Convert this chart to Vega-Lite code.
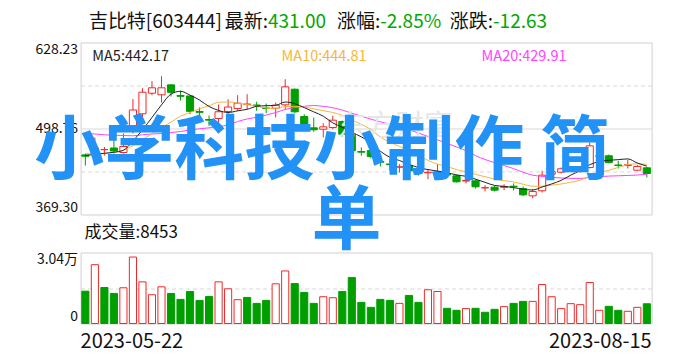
{
  "$schema": "https://vega.github.io/schema/vega-lite/v6.json",
  "background": "white",
  "padding": {"left": 33.6, "top": 11.5, "right": 5, "bottom": 5},
  "bounds": "flush",
  "config": {
    "view": {"stroke": "#d0d0d0", "strokeWidth": 1},
    "font": "Noto Sans CJK SC",
    "axis": {"labelFont": "Noto Sans CJK SC", "labelColor": "#111111", "ticks": false, "domain": false, "title": null}
  },
  "spacing": 38,
  "datasets": {
    "k": [
      {"d":"2023-05-22","o":459,"h":461,"l":443,"c":457,"v":13840,"ma5":458,"ma10":461,"ma20":491.7},
      {"d":"2023-05-23","o":461.9,"h":485.2,"l":455.9,"c":469.4,"v":25180,"ma5":460,"ma10":460.5,"ma20":490.5},
      {"d":"2023-05-24","o":467,"h":471,"l":458,"c":467,"v":15410,"ma5":461.5,"ma10":461,"ma20":489.3},
      {"d":"2023-05-25","o":469.4,"h":482.2,"l":461.1,"c":464.9,"v":12870,"ma5":463,"ma10":462.5,"ma20":488.7},
      {"d":"2023-05-26","o":462.6,"h":491.2,"l":461.1,"c":471.7,"v":15290,"ma5":466.0,"ma10":466,"ma20":488.2},
      {"d":"2023-05-29","o":496.8,"h":543.2,"l":491.2,"c":526.6,"v":28450,"ma5":479.9,"ma10":473,"ma20":487.8},
      {"d":"2023-05-30","o":520.9,"h":559.4,"l":514.3,"c":553.4,"v":17830,"ma5":496.7,"ma10":482,"ma20":489.3},
      {"d":"2023-05-31","o":551.9,"h":570.0,"l":548.9,"c":560.0,"v":12310,"ma5":515.3,"ma10":491,"ma20":490.5},
      {"d":"2023-06-01","o":549.5,"h":577.5,"l":537.9,"c":560.0,"v":15710,"ma5":534.3,"ma10":500,"ma20":491.2},
      {"d":"2023-06-02","o":564.5,"h":565,"l":546.9,"c":553.2,"v":12870,"ma5":550.6,"ma10":508.3,"ma20":492.7},
      {"d":"2023-06-05","o":548.4,"h":555.5,"l":540.9,"c":547.2,"v":10320,"ma5":554.8,"ma10":517.3,"ma20":494.2},
      {"d":"2023-06-06","o":547.7,"h":548.4,"l":520.3,"c":524.6,"v":13710,"ma5":549.0,"ma10":522.9,"ma20":496.6},
      {"d":"2023-06-07","o":524.4,"h":530.4,"l":516.8,"c":523.1,"v":9890,"ma5":541.6,"ma10":528.5,"ma20":498.3},
      {"d":"2023-06-08","o":512.3,"h":518.3,"l":502.5,"c":511.3,"v":11590,"ma5":531.9,"ma10":533.1,"ma20":499.8},
      {"d":"2023-06-09","o":513.8,"h":534.9,"l":501.8,"c":524.0,"v":17830,"ma5":526.0,"ma10":538.3,"ma20":501.8},
      {"d":"2023-06-12","o":524.4,"h":542.9,"l":518.8,"c":531.1,"v":14860,"ma5":522.8,"ma10":538.8,"ma20":504.0},
      {"d":"2023-06-13","o":528.9,"h":548.9,"l":525.4,"c":536.9,"v":10190,"ma5":525.3,"ma10":537.1,"ma20":509.3},
      {"d":"2023-06-14","o":535.3,"h":550.4,"l":527.8,"c":535.3,"v":11170,"ma5":527.7,"ma10":534.7,"ma20":513.1},
      {"d":"2023-06-15","o":534.1,"h":539,"l":525.4,"c":533.4,"v":8620,"ma5":532.1,"ma10":532.0,"ma20":515.8},
      {"d":"2023-06-16","o":529.6,"h":536.4,"l":521.8,"c":528.9,"v":9890,"ma5":533.1,"ma10":529.6,"ma20":519.0},
      {"d":"2023-06-19","o":529.3,"h":537.9,"l":515.3,"c":533.8,"v":16980,"ma5":533.7,"ma10":528.2,"ma20":522.8},
      {"d":"2023-06-20","o":534.4,"h":573.0,"l":527.8,"c":561.5,"v":22500,"ma5":538.6,"ma10":531.9,"ma20":527.4},
      {"d":"2023-06-21","o":557.9,"h":559,"l":521.8,"c":523.9,"v":17110,"ma5":536.3,"ma10":532.0,"ma20":530.2},
      {"d":"2023-06-26","o":516.8,"h":520.3,"l":496.8,"c":502.8,"v":13290,"ma5":530.2,"ma10":531.2,"ma20":532.1},
      {"d":"2023-06-27","o":499.8,"h":515.3,"l":493.8,"c":496.8,"v":8620,"ma5":523.8,"ma10":528.4,"ma20":533.4},
      {"d":"2023-06-28","o":497.7,"h":506.8,"l":485.2,"c":501.3,"v":11460,"ma5":517.3,"ma10":525.5,"ma20":532.1},
      {"d":"2023-06-29","o":500.3,"h":517.9,"l":498.0,"c":511.3,"v":11040,"ma5":507.2,"ma10":522.9,"ma20":530.0},
      {"d":"2023-06-30","o":509.3,"h":510.8,"l":486.7,"c":490.2,"v":13710,"ma5":500.5,"ma10":518.4,"ma20":526.5},
      {"d":"2023-07-03","o":490.2,"h":492.7,"l":460.1,"c":465.2,"v":19660,"ma5":493.0,"ma10":511.6,"ma20":521.8},
      {"d":"2023-07-04","o":464.1,"h":470.2,"l":457.7,"c":463.1,"v":9040,"ma5":486.2,"ma10":505.0,"ma20":517.3},
      {"d":"2023-07-05","o":465.6,"h":468.6,"l":453.6,"c":456.6,"v":6920,"ma5":477.3,"ma10":497.3,"ma20":512.8},
      {"d":"2023-07-06","o":449.1,"h":456.6,"l":441.6,"c":448.0,"v":10320,"ma5":464.6,"ma10":485.9,"ma20":508.9},
      {"d":"2023-07-07","o":445.3,"h":453.6,"l":435.5,"c":444.3,"v":9890,"ma5":455.4,"ma10":478.0,"ma20":505.0},
      {"d":"2023-07-10","o":440.5,"h":445.0,"l":432.5,"c":441.1,"v":8620,"ma5":450.6,"ma10":471.8,"ma20":501.5},
      {"d":"2023-07-11","o":442.6,"h":444.6,"l":432.5,"c":435.1,"v":12020,"ma5":445.0,"ma10":465.6,"ma20":497.0},
      {"d":"2023-07-12","o":434.8,"h":437.0,"l":428.0,"c":431.0,"v":9040,"ma5":439.9,"ma10":458.6,"ma20":492.0},
      {"d":"2023-07-13","o":432.1,"h":437.5,"l":422.4,"c":432.8,"v":14440,"ma5":436.9,"ma10":450.7,"ma20":486.8},
      {"d":"2023-07-14","o":432.5,"h":445.0,"l":426.5,"c":433.6,"v":13710,"ma5":434.7,"ma10":445.1,"ma20":481.7},
      {"d":"2023-07-17","o":431.0,"h":432.5,"l":426.5,"c":428.8,"v":6500,"ma5":432.3,"ma10":441.4,"ma20":476.5},
      {"d":"2023-07-18","o":427.6,"h":429.5,"l":417.5,"c":418.5,"v":5650,"ma5":428.9,"ma10":437.0,"ma20":471.0},
      {"d":"2023-07-19","o":419.7,"h":423.5,"l":416.0,"c":420.5,"v":6370,"ma5":426.8,"ma10":433.4,"ma20":465.3},
      {"d":"2023-07-20","o":420.0,"h":422.0,"l":408.4,"c":411.0,"v":6500,"ma5":422.5,"ma10":429.7,"ma20":457.8},
      {"d":"2023-07-21","o":409.5,"h":413.4,"l":404.0,"c":409.5,"v":4800,"ma5":417.7,"ma10":426.2,"ma20":452.1},
      {"d":"2023-07-24","o":410.4,"h":412.2,"l":404.0,"c":405.9,"v":6070,"ma5":413.1,"ma10":422.7,"ma20":447.2},
      {"d":"2023-07-25","o":410.2,"h":414.9,"l":405.9,"c":411.4,"v":7220,"ma5":411.7,"ma10":420.3,"ma20":443.0},
      {"d":"2023-07-26","o":411.9,"h":416.0,"l":405.4,"c":411.0,"v":8620,"ma5":409.8,"ma10":418.3,"ma20":438.4},
      {"d":"2023-07-27","o":408.4,"h":411.4,"l":397.1,"c":398.9,"v":9470,"ma5":407.3,"ma10":414.9,"ma20":432.8},
      {"d":"2023-07-28","o":397.4,"h":407.4,"l":393.8,"c":403.9,"v":9470,"ma5":406.2,"ma10":411.9,"ma20":428.5},
      {"d":"2023-07-31","o":405.0,"h":435.1,"l":402.4,"c":428.5,"v":16690,"ma5":410.7,"ma10":411.9,"ma20":426.7},
      {"d":"2023-08-01","o":430.0,"h":435.5,"l":428.0,"c":434.0,"v":11460,"ma5":415.3,"ma10":413.5,"ma20":425.2},
      {"d":"2023-08-02","o":433.0,"h":440.1,"l":431.0,"c":438.1,"v":6370,"ma5":420.7,"ma10":415.2,"ma20":424.3},
      {"d":"2023-08-03","o":437.0,"h":441.6,"l":434.0,"c":438.1,"v":8490,"ma5":428.5,"ma10":417.9,"ma20":423.8},
      {"d":"2023-08-04","o":434.5,"h":441.6,"l":432.5,"c":438.6,"v":8070,"ma5":435.5,"ma10":420.8,"ma20":423.5},
      {"d":"2023-08-07","o":440.1,"h":477.7,"l":438.6,"c":472.7,"v":17540,"ma5":444.3,"ma10":427.5,"ma20":425.1},
      {"d":"2023-08-08","o":456.6,"h":461.1,"l":453.6,"c":457.7,"v":5650,"ma5":449.0,"ma10":432.2,"ma20":426.2},
      {"d":"2023-08-09","o":457.7,"h":459.6,"l":446.1,"c":447.6,"v":7350,"ma5":450.9,"ma10":435.8,"ma20":427.1},
      {"d":"2023-08-10","o":443.8,"h":450.1,"l":438.6,"c":443.1,"v":5650,"ma5":451.9,"ma10":440.2,"ma20":427.6},
      {"d":"2023-08-11","o":443.1,"h":451.6,"l":438.6,"c":444.1,"v":5220,"ma5":453.0,"ma10":444.3,"ma20":428.1},
      {"d":"2023-08-14","o":436.0,"h":443.8,"l":434.8,"c":441.6,"v":6920,"ma5":446.8,"ma10":445.6,"ma20":428.7},
      {"d":"2023-08-15","o":439.6,"h":440.8,"l":425.0,"c":431.0,"v":8453,"ma5":442.17,"ma10":444.81,"ma20":429.91}
    ]
  },
  "vconcat": [
    {
      "width": 571,
      "height": 172,
      "layer": [
        {
          "data": {"name": "k"},
          "encoding": {
            "x": {"field": "d", "type": "ordinal", "scale": {"type": "band", "paddingInner": 0, "paddingOuter": 0}, "axis": null}
          },
          "layer": [
            {
              "mark": {"type": "rule", "strokeWidth": 1},
              "encoding": {
                "y": {"field": "l", "type": "quantitative", "scale": {"domain": [369.3, 628.23], "nice": false, "zero": false},
                  "axis": {
                    "orient": "left",
                    "values": [369.3, 434.03, 498.76, 563.5, 628.23],
                    "labelExpr": "(datum.value == 369.3 || datum.value == 498.76 || datum.value == 628.23) ? format(datum.value, '.2f') : ''",
                    "labelFlush": true,
                    "labelFontSize": 14,
                    "labelPadding": 3,
                    "grid": true,
                    "gridColor": "#d8d8d8",
                    "gridDash": {"condition": {"test": "datum.value == 498.76", "value": []}, "value": [4, 3]},
                    "gridOpacity": {"condition": {"test": "datum.value == 369.3 || datum.value == 628.23", "value": 0}, "value": 1}
                  }
                },
                "y2": {"field": "h"},
                "color": {"condition": {"test": "datum.c >= datum.o", "value": "#f02828"}, "value": "#009f00"}
              }
            },
            {
              "mark": {"type": "bar", "width": {"band": 0.75}, "strokeWidth": 1},
              "encoding": {
                "y": {"field": "o", "type": "quantitative", "scale": {"domain": [369.3, 628.23], "nice": false, "zero": false}},
                "y2": {"field": "c"},
                "fill": {"condition": {"test": "datum.c >= datum.o", "value": "#ffffff"}, "value": "#009f00"},
                "stroke": {"condition": {"test": "datum.c >= datum.o", "value": "#f02828"}, "value": "#009f00"}
              }
            },
            {
              "mark": {"type": "line", "interpolate": "monotone", "strokeWidth": 1},
              "encoding": {"y": {"field": "ma20", "type": "quantitative", "scale": {"domain": [369.3, 628.23], "nice": false, "zero": false}}, "color": {"value": "#ff40ff"}}
            },
            {
              "mark": {"type": "line", "interpolate": "monotone", "strokeWidth": 1},
              "encoding": {"y": {"field": "ma10", "type": "quantitative", "scale": {"domain": [369.3, 628.23], "nice": false, "zero": false}}, "color": {"value": "#f5b63a"}}
            },
            {
              "mark": {"type": "line", "interpolate": "monotone", "strokeWidth": 1},
              "encoding": {"y": {"field": "ma5", "type": "quantitative", "scale": {"domain": [369.3, 628.23], "nice": false, "zero": false}}, "color": {"value": "#222222"}}
            }
          ]
        },
        {
          "data": {"values": [{}]},
          "encoding": {
            "x": {"type": "quantitative", "scale": {"domain": [0, 1], "nice": false, "zero": false}, "axis": null},
            "y": {"type": "quantitative", "scale": {"domain": [0, 1], "nice": false, "zero": false}, "axis": null}
          },
          "layer": [
            {"mark": {"type": "text", "align": "center", "baseline": "middle", "fontSize": 29, "color": "#e6e6e6", "text": "东方财富"},
             "encoding": {"x": {"datum": 0.5508, "type": "quantitative"}, "y": {"datum": 0.5116, "type": "quantitative"}}},
            {"mark": {"type": "text", "align": "left", "baseline": "middle", "fontSize": 14.5, "color": "#222222", "text": "MA5:442.17"},
             "encoding": {"x": {"datum": 0.0205, "type": "quantitative"}, "y": {"datum": 0.9128, "type": "quantitative"}}},
            {"mark": {"type": "text", "align": "left", "baseline": "middle", "fontSize": 14.5, "color": "#f5b63a", "text": "MA10:444.81"},
             "encoding": {"x": {"datum": 0.352, "type": "quantitative"}, "y": {"datum": 0.9128, "type": "quantitative"}}},
            {"mark": {"type": "text", "align": "left", "baseline": "middle", "fontSize": 14.5, "color": "#ff44ff", "text": "MA20:429.91"},
             "encoding": {"x": {"datum": 0.7023, "type": "quantitative"}, "y": {"datum": 0.9128, "type": "quantitative"}}},
            {"mark": {"type": "text", "align": "left", "baseline": "middle", "fontSize": 19, "color": "#111111", "text": "吉比特[603444]"},
             "encoding": {"x": {"datum": 0.01454, "type": "quantitative"}, "y": {"datum": 1.1221, "type": "quantitative"}}},
            {"mark": {"type": "text", "align": "right", "baseline": "middle", "fontSize": 19, "color": "#111111", "text": "最新:"},
             "encoding": {"x": {"datum": 0.3282, "type": "quantitative"}, "y": {"datum": 1.1221, "type": "quantitative"}}},
            {"mark": {"type": "text", "align": "left", "baseline": "middle", "fontSize": 19, "color": "#00a800", "text": "431.00"},
             "encoding": {"x": {"datum": 0.3282, "type": "quantitative"}, "y": {"datum": 1.1221, "type": "quantitative"}}},
            {"mark": {"type": "text", "align": "right", "baseline": "middle", "fontSize": 19, "color": "#111111", "text": "涨幅:"},
             "encoding": {"x": {"datum": 0.5247, "type": "quantitative"}, "y": {"datum": 1.1221, "type": "quantitative"}}},
            {"mark": {"type": "text", "align": "left", "baseline": "middle", "fontSize": 19, "color": "#00a800", "text": "-2.85%"},
             "encoding": {"x": {"datum": 0.5247, "type": "quantitative"}, "y": {"datum": 1.1221, "type": "quantitative"}}},
            {"mark": {"type": "text", "align": "right", "baseline": "middle", "fontSize": 19, "color": "#111111", "text": "涨跌:"},
             "encoding": {"x": {"datum": 0.7223, "type": "quantitative"}, "y": {"datum": 1.1221, "type": "quantitative"}}},
            {"mark": {"type": "text", "align": "left", "baseline": "middle", "fontSize": 19, "color": "#00a800", "text": "-12.63"},
             "encoding": {"x": {"datum": 0.7223, "type": "quantitative"}, "y": {"datum": 1.1221, "type": "quantitative"}}},
            {"mark": {"type": "text", "align": "center", "baseline": "middle", "fontSize": 70, "fontWeight": "bold", "color": "#2292f7", "text": "小学科技小制作 简"},
             "encoding": {"x": {"datum": 0.423, "type": "quantitative"}, "y": {"datum": 0.355, "type": "quantitative"}}},
            {"mark": {"type": "text", "align": "center", "baseline": "middle", "fontSize": 70, "fontWeight": "bold", "color": "#2292f7", "text": "单"},
             "encoding": {"x": {"datum": 0.4658, "type": "quantitative"}, "y": {"datum": -0.0494, "type": "quantitative"}}}
          ]
        }
      ],
      "resolve": {"scale": {"x": "independent", "y": "independent"}}
    },
    {
      "width": 571,
      "height": 71,
      "layer": [
        {
          "data": {"name": "k"},
          "mark": {"type": "bar", "width": {"band": 0.75}, "strokeWidth": 1},
          "encoding": {
            "x": {"field": "d", "type": "ordinal", "scale": {"type": "band", "paddingInner": 0, "paddingOuter": 0},
              "axis": {"orient": "bottom", "values": ["2023-05-22", "2023-08-15"], "labelAngle": 0, "labelFontSize": 20, "labelFlush": 12, "labelFlushOffset": 4.76, "labelPadding": 8, "grid": false}},
            "y": {"field": "v", "type": "quantitative", "scale": {"domain": [0, 30400], "nice": false, "zero": true},
              "axis": {
                "orient": "left",
                "values": [0, 15200, 30400],
                "labelExpr": "datum.value == 0 ? '0' : (datum.value == 30400 ? '3.04万' : '')",
                "labelFlush": true,
                "labelFontSize": 14,
                "labelPadding": 3,
                "grid": true,
                "gridColor": "#d8d8d8",
                "gridDash": [4, 3],
                "gridOpacity": {"condition": {"test": "datum.value == 0 || datum.value == 30400", "value": 0}, "value": 1}
              }
            },
            "fill": {"condition": {"test": "datum.c > datum.o", "value": "#ffffff"}, "value": "#009f00"},
            "stroke": {"condition": {"test": "datum.c > datum.o", "value": "#f02828"}, "value": "#009f00"}
          }
        },
        {
          "data": {"values": [{}]},
          "mark": {"type": "text", "align": "left", "baseline": "middle", "fontSize": 17, "color": "#111111", "text": "成交量:8453"},
          "encoding": {
            "x": {"datum": 0.007, "type": "quantitative", "scale": {"domain": [0, 1], "nice": false, "zero": false}, "axis": null},
            "y": {"datum": 1.275, "type": "quantitative", "scale": {"domain": [0, 1], "nice": false, "zero": false}, "axis": null}
          }
        }
      ],
      "resolve": {"scale": {"x": "independent", "y": "independent"}}
    }
  ]
}
